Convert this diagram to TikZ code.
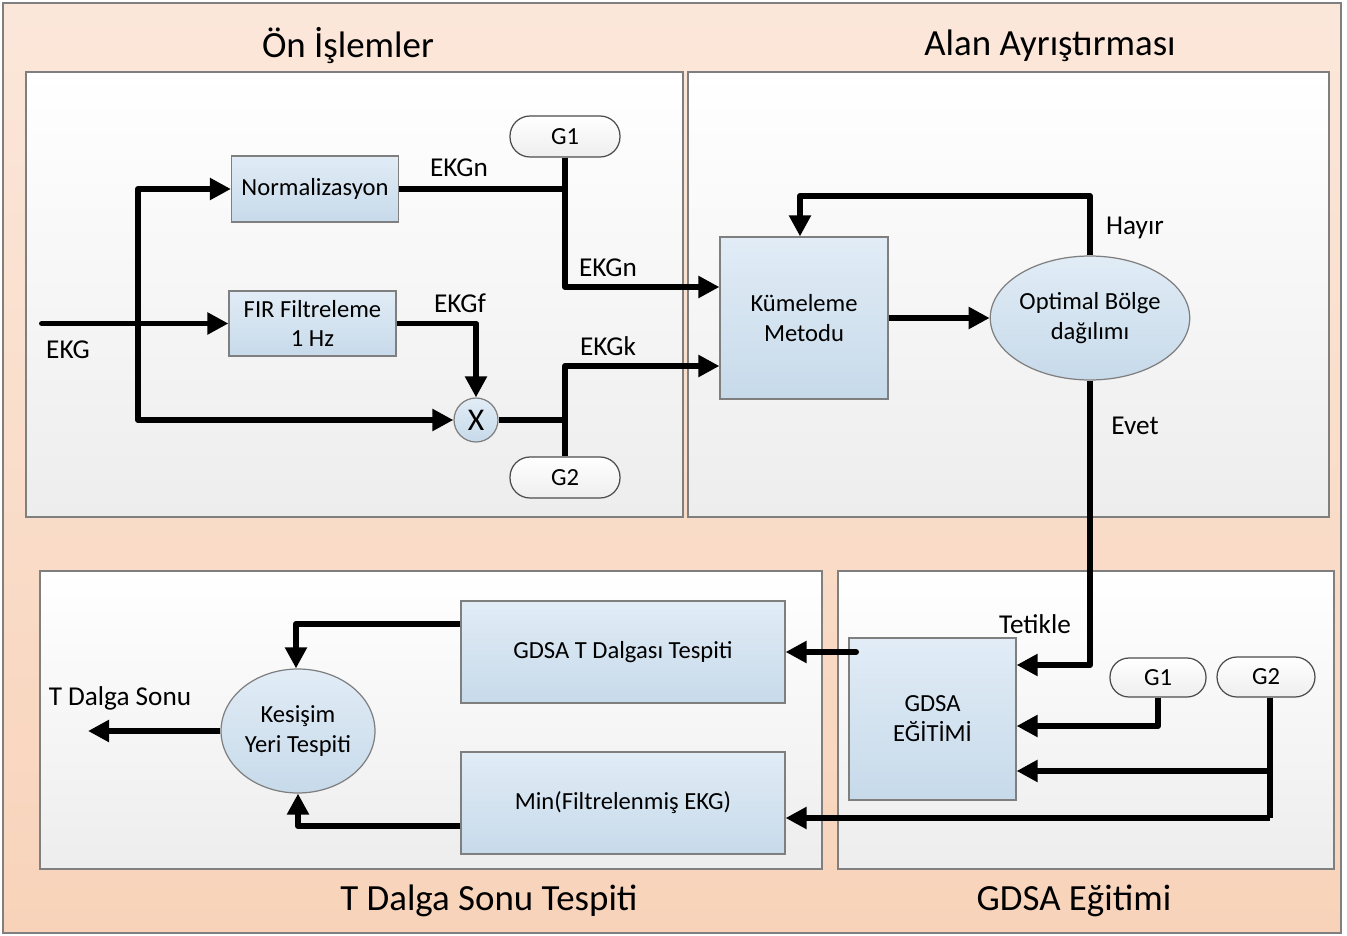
\documentclass[tikz,border=0pt]{standalone}
\usepackage{fontspec}
\setmainfont{Carlito}
\usetikzlibrary{arrows.meta,shapes.geometric}
\definecolor{bgtop}{HTML}{FBE7DA}
\definecolor{bgbot}{HTML}{F8D3BA}
\definecolor{pantop}{HTML}{FFFFFF}
\definecolor{panbot}{HTML}{EDEDED}
\definecolor{bluetop}{HTML}{E1ECF6}
\definecolor{bluebot}{HTML}{C7DAEA}
\definecolor{edge}{HTML}{7F7F7F}
\definecolor{pillbot}{HTML}{EEEEEE}
\begin{document}
\begin{tikzpicture}[x=0.02cm,y=-0.02cm,
  panel/.style={draw=edge, line width=0.7pt, top color=pantop, bottom color=panbot},
  blk/.style={draw=edge, line width=0.7pt, top color=bluetop, bottom color=bluebot, align=center,
    font=\fontsize{14}{17}\selectfont, inner sep=0pt},
  ell/.style={blk, ellipse},
  pill/.style={draw=black!70, line width=0.7pt, top color=white, bottom color=pillbot,
    rounded corners=0.4cm, font=\fontsize{14}{17}\selectfont, inner sep=0pt},
  ttl/.style={font=\fontsize{21}{25}\selectfont, inner sep=0pt},
  lbl/.style={font=\fontsize{15.5}{18}\selectfont, inner sep=0pt},
  conn/.style={line width=3.4pt, line join=round},
  arr/.style={conn, -{Triangle[length=12pt,width=12pt]}}]
\useasboundingbox (0,0) rectangle (1347,936);
% background and panels
\shade[top color=bgtop, bottom color=bgbot, draw=edge, line width=0.8pt] (3,3) rectangle (1341,933);
\draw[panel] (26,72) rectangle (683,517);
\draw[panel] (688,72) rectangle (1329,517);
\draw[panel] (40,571) rectangle (822,869);
\draw[panel] (838,571) rectangle (1334,869);
% titles
\node[ttl] (t1) at (348,46) {Ön İşlemler};
\node[ttl] (t2) at (1050,46) {Alan Ayrıştırması};
\node[ttl] (t3) at (489,901) {T Dalga Sonu Tespiti};
\node[ttl] (t4) at (1074,901) {GDSA Eğitimi};
% blocks
\node[blk, minimum width=3.34cm, minimum height=1.32cm] (norm) at (315,189) {Normalizasyon};
\node[blk, minimum width=3.34cm, minimum height=1.30cm] (fir) at (312.5,323.5) {FIR Filtreleme\\1 Hz};
\node[blk, circle, minimum size=0.88cm, font=\fontsize{18}{20}\selectfont] (xm) at (476,420) {X};
\node[pill, minimum width=2.2cm, minimum height=0.82cm] (g1t) at (565,136.5) {G1};
\node[pill, minimum width=2.2cm, minimum height=0.82cm] (g2t) at (565,477.5) {G2};
\node[blk, minimum width=3.36cm, minimum height=3.24cm] (kum) at (804,318) {Kümeleme\\Metodu};
\node[ell, minimum width=3.84cm, minimum height=2.48cm] (opt) at (1090,318) {Optimal Bölge\\dağılımı};
\node[blk, minimum width=3.34cm, minimum height=3.24cm] (gdsa) at (932.5,719) {GDSA\\EĞİTİMİ};
\node[pill, minimum width=1.92cm, minimum height=0.78cm, rounded corners=0.38cm] (g1b) at (1158,677.5) {G1};
\node[pill, minimum width=1.96cm, minimum height=0.80cm] (g2b) at (1266,677) {G2};
\node[blk, minimum width=6.48cm, minimum height=2.04cm] (gdt) at (623,652) {GDSA T Dalgası Tespiti};
\node[blk, minimum width=6.48cm, minimum height=2.04cm] (minb) at (623,803) {Min(Filtrelenmiş EKG)};
\node[ell, minimum width=3.08cm, minimum height=2.48cm] (kes) at (298,731) {Kesişim\\Yeri Tespiti};
% labels
\node[lbl] (lekg) at (68,350) {EKG};
\node[lbl] (lekgn1) at (459,168) {EKGn};
\node[lbl] (lekgn2) at (608,268) {EKGn};
\node[lbl] (lekgf) at (460,303) {EKGf};
\node[lbl] (lekgk) at (608,346) {EKGk};
\node[lbl] (lhay) at (1135,228) {Hayır};
\node[lbl] (levet) at (1135,426) {Evet};
\node[lbl] (ltet) at (1035,624) {Tetikle};
\node[lbl] (ltds) at (120,698) {T Dalga Sonu};
% coordinates
\coordinate (ekgin) at (42,323.5);
\coordinate (b1) at (138,323.5);
\coordinate (j1) at (g1t.south |- norm.east);
\coordinate (k1) at (565,287);
\coordinate (j2) at (g2t.north |- xm.east);
\coordinate (k2) at (565,366);
\coordinate (fb) at (1090,196);
\coordinate (fb2) at (800,196);
\coordinate (e1) at (1090,665);
\coordinate (e2) at (1158,726);
\coordinate (e3) at (1270,771);
\coordinate (e4) at (1270,818);
\coordinate (s1) at (856,652);
\coordinate (s2) at (296,624);
\coordinate (s3) at (298,826);
\coordinate (tout) at (88,731);
% connectors
\draw[arr, line cap=round] (ekgin) -- (fir.west);
\draw[arr] (b1) |- (norm.west);
\draw[arr] (b1) |- (xm.west);
\draw[arr] (norm.east) -- (j1) -- (k1) -- (kum.west |- k1);
\draw[conn] (g1t.south) -- (j1);
\draw[arr] (fir.east) -| (xm.north);
\draw[arr] (xm.east) -- (j2) -- (k2) -- (kum.west |- k2);
\draw[conn] (g2t.north) -- (j2);
\draw[arr] (kum.east) -- (opt.west);
\draw[arr] (opt.north) -- (fb) -- (fb2) -- (kum.north -| fb2);
\draw[arr] (opt.south) -- (e1) -- (gdsa.east |- e1);
\draw[arr] (g1b.south) -- (e2) -- (gdsa.east |- e2);
\draw[conn] (g2b.south -| e3) -- (e4);
\draw[arr] (e3) -- (gdsa.east |- e3);
\draw[arr] (e4) -- (minb.east |- e4);
\draw[arr, line cap=round] (s1) -- (gdt.east |- s1);
\draw[arr] (gdt.west |- s2) -- (s2) -- (kes.north -| s2);
\draw[arr] (minb.west |- s3) -| (kes.south);
\draw[arr] (kes.west) -- (tout);
\end{tikzpicture}
\end{document}
